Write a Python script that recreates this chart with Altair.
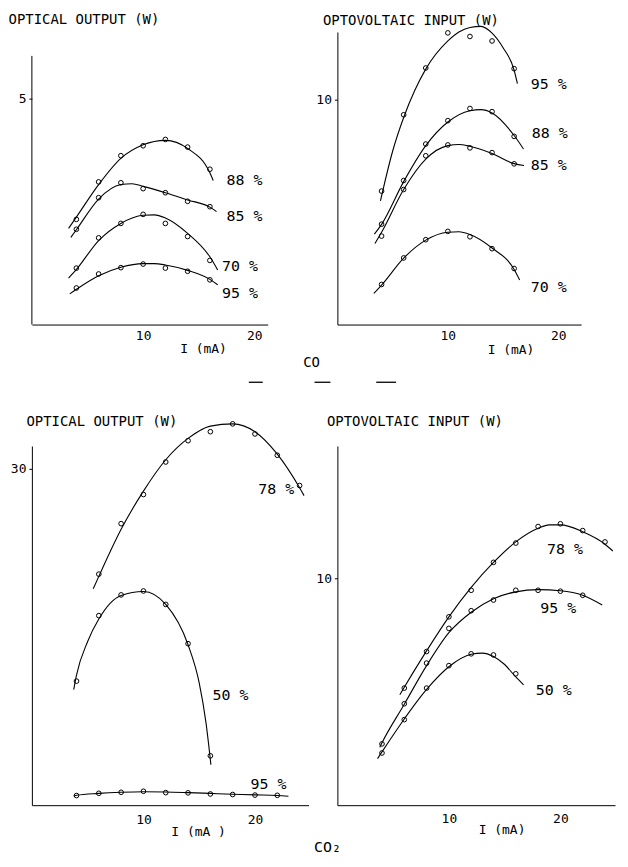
import altair as alt
import pandas as pd

FONT = "DejaVu Sans Mono"

# ---------------- Panel A: CO, optical output ----------------
A_X = [4, 6, 8, 10, 12, 14, 16]
A_88 = [2.33, 3.16, 3.74, 3.96, 4.10, 3.93, 3.44]
A_85 = [2.11, 2.81, 3.14, 3.01, 2.92, 2.73, 2.61]
A_70 = [1.25, 1.92, 2.24, 2.44, 2.24, 1.95, 1.42]
A_95 = [0.81, 1.12, 1.26, 1.34, 1.25, 1.18, 0.99]
A_88_CX = [3.3, 4, 6, 8, 10, 12, 14, 16, 16.3]
A_88_CY = [2.13, 2.38, 3.10, 3.68, 3.98, 4.08, 3.90, 3.36, 3.19]
A_85_CX = [3.5, 4, 6, 8, 9, 10, 12, 14, 16, 16.6]
A_85_CY = [1.93, 2.10, 2.78, 3.10, 3.12, 3.06, 2.92, 2.76, 2.60, 2.50]
A_70_CX = [3.3, 4, 6, 8, 10, 11, 12, 14, 16, 16.7]
A_70_CY = [1.03, 1.22, 1.86, 2.24, 2.42, 2.43, 2.36, 2.02, 1.50, 1.21]
A_95_CX = [3.4, 4, 6, 8, 10, 11, 12, 14, 16, 16.7]
A_95_CY = [0.68, 0.78, 1.08, 1.27, 1.35, 1.35, 1.32, 1.20, 1.00, 0.88]
A_LABELS = ["88 %", "85 %", "70 %", "95 %"]
A_LAB_X = [17.5, 17.5, 17.1, 17.1]
A_LAB_Y = [3.19, 2.40, 1.30, 0.70]

# ---------------- Panel B: CO, optovoltaic input ----------------
B_X = [4, 6, 8, 10, 12, 14, 16]
B_95 = [5.93, 9.32, 11.4, 12.96, 12.8, 12.6, 11.37]
B_88 = [4.46, 6.4, 8.02, 9.06, 9.6, 9.46, 8.36]
B_85 = [3.93, 6.0, 7.5, 7.98, 7.85, 7.64, 7.14]
B_70 = [1.78, 2.96, 3.77, 4.14, 3.9, 3.37, 2.49]
B_95_CX = [3.9, 5, 6, 7, 8, 10, 11, 12, 13, 14, 15, 16, 16.3]
B_95_CY = [5.5, 7.7, 9.2, 10.4, 11.35, 12.6, 13.0, 13.2, 13.25, 12.95, 12.3, 11.3, 10.7]
B_88_CX = [3.35, 4, 6, 8, 10, 12, 13, 14, 16, 16.85]
B_88_CY = [4.02, 4.45, 6.35, 7.95, 9.0, 9.5, 9.55, 9.4, 8.4, 7.8]
B_85_CX = [3.4, 4, 6, 8, 10, 11, 12, 14, 16, 16.9]
B_85_CY = [3.6, 4.1, 6.0, 7.35, 7.95, 8.0, 7.92, 7.6, 7.15, 7.07]
B_70_CX = [3.3, 4, 6, 8, 10, 11, 12, 14, 16, 16.5]
B_70_CY = [1.38, 1.75, 2.95, 3.75, 4.1, 4.12, 4.0, 3.4, 2.45, 1.98]
B_LABELS = ["95 %", "88 %", "85 %", "70 %"]
B_LAB_X = [17.5, 17.6, 17.5, 17.5]
B_LAB_Y = [10.7, 8.5, 7.08, 1.68]

# ---------------- Panel C: CO2, optical output ----------------
C_X78 = [6, 8, 10, 12, 14, 16, 18, 20, 22, 24]
C_78 = [20.6, 25.1, 27.7, 30.6, 32.5, 33.3, 34.0, 33.1, 31.2, 28.5]
C_X50 = [4, 6, 8, 10, 12, 14, 16]
C_50 = [11.06, 16.9, 18.75, 19.1, 17.9, 14.4, 4.4]
C_X95 = [4, 6, 8, 10, 12, 14, 16, 18, 20, 22]
C_95 = [0.86, 1.06, 1.15, 1.24, 1.12, 1.1, 1.0, 0.95, 0.9, 0.88]
C_78_CX = [5.5, 6, 8, 10, 12, 14, 16, 18, 20, 22, 24, 24.4]
C_78_CY = [19.3, 20.4, 24.6, 28.0, 30.8, 32.7, 33.8, 34.0, 33.3, 31.3, 28.3, 27.6]
C_50_CX = [3.75, 4, 5, 6, 8, 10, 12, 14, 15, 15.6, 16.05]
C_50_CY = [10.3, 11.6, 14.6, 16.6, 18.7, 19.05, 17.9, 14.3, 10.9, 7.4, 3.6]
C_95_CX = [3.75, 4, 6, 8, 10, 12, 14, 16, 18, 20, 22, 23]
C_95_CY = [0.8, 0.88, 1.05, 1.15, 1.2, 1.18, 1.12, 1.05, 0.98, 0.92, 0.86, 0.8]
C_LABELS = ["78 %", "50 %", "95 %"]
C_LAB_X = [20.3, 16.2, 19.6]
C_LAB_Y = [28.2, 9.85, 1.86]

# ---------------- Panel D: CO2, optovoltaic input ----------------
D_X78 = [6, 8, 10, 12, 14, 16, 18, 20, 22, 24]
D_78 = [5.16, 6.77, 8.3, 9.47, 10.7, 11.55, 12.28, 12.4, 12.1, 11.6]
D_X95 = [4, 6, 8, 10, 12, 14, 16, 18, 20, 22]
D_95 = [2.7, 4.47, 6.26, 7.79, 8.57, 9.04, 9.47, 9.47, 9.43, 9.25]
D_X50 = [4, 6, 8, 10, 12, 14, 16]
D_50 = [2.3, 3.77, 5.16, 6.15, 6.67, 6.62, 5.79]
D_78_CX = [5.6, 6, 8, 10, 12, 14, 16, 18, 19, 20, 22, 24, 24.7]
D_78_CY = [4.87, 5.2, 6.8, 8.3, 9.6, 10.7, 11.6, 12.2, 12.35, 12.35, 12.05, 11.5, 11.2]
D_95_CX = [3.8, 4, 6, 8, 10, 12, 14, 16, 18, 20, 22, 23.75]
D_95_CY = [2.55, 2.75, 4.45, 6.15, 7.6, 8.5, 9.1, 9.4, 9.5, 9.45, 9.25, 8.82]
D_50_CX = [3.6, 4, 6, 8, 10, 12, 13, 14, 15, 16, 16.7]
D_50_CY = [2.05, 2.35, 3.8, 5.1, 6.1, 6.65, 6.7, 6.55, 6.2, 5.65, 5.3]
D_LABELS = ["78 %", "95 %", "50 %"]
D_LAB_X = [18.8, 18.2, 17.8]
D_LAB_Y = [11.3, 8.68, 5.09]


def frame(series):
    rows = []
    for name, xs, ys in series:
        for x, y in zip(xs, ys):
            rows.append({"s": name, "x": x, "y": y})
    return pd.DataFrame(rows)


def labels_frame(texts, xs, ys):
    return pd.DataFrame({"t": texts, "x": xs, "y": ys})


def panel(curves, points, labels, xdom, ydom, w, h, yval, ytitle, ytx, yty,
          xtitle, xtx, xty, xlabpad, ydomain=True, axis_top=None, extras=()):
    xs = alt.Scale(domain=xdom, nice=False, zero=False)
    ys = alt.Scale(domain=ydom, nice=False, zero=False)
    xaxis = alt.Axis(values=[10, 20], format="d", grid=False, ticks=False, tickSize=0,
                     labelPadding=xlabpad, domainColor="black", domainWidth=1,
                     labelColor="black", labelFont=FONT, labelFontSize=13,
                     title=xtitle, titleX=xtx, titleY=xty, titleAlign="center",
                     titleBaseline="middle", titleFontSize=13, titleFontWeight="normal",
                     titleFont=FONT, titleColor="black")
    yaxis = alt.Axis(values=[yval], format="d", grid=False, tickSize=3, labelPadding=3,
                     tickColor="black", domain=ydomain, domainColor="black", domainWidth=1,
                     labelColor="black", labelFont=FONT, labelFontSize=13,
                     title=ytitle, titleAngle=0, titleX=ytx, titleY=yty,
                     titleAlign="left", titleBaseline="middle", titleFontSize=14,
                     titleFontWeight="normal", titleFont=FONT, titleColor="black")
    X = alt.X("x:Q", scale=xs, axis=xaxis)
    Y = alt.Y("y:Q", scale=ys, axis=yaxis)
    lines = alt.Chart(curves).mark_line(
        color="black", strokeWidth=1.1, interpolate="monotone"
    ).encode(x=X, y=Y, detail="s:N")
    pts = alt.Chart(points).mark_point(
        shape="circle", filled=False, color="black", size=22, strokeWidth=1, opacity=1
    ).encode(x=X, y=Y)
    txt = alt.Chart(labels).mark_text(
        align="left", baseline="middle", font=FONT, fontSize=15, color="black"
    ).encode(x=X, y=Y, text="t:N")
    layers = [lines, pts, txt]
    if axis_top is not None:
        ax = pd.DataFrame({"y0": [0.0], "y1": [axis_top]})
        layers.append(
            alt.Chart(ax).mark_rule(color="black", strokeWidth=1).encode(
                x=alt.value(0), y=alt.Y("y0:Q", scale=ys, axis=yaxis), y2="y1:Q")
        )
    layers.extend(extras)
    return alt.layer(*layers).properties(width=w, height=h)


def note(text, x, y, size=14):
    return alt.Chart(pd.DataFrame({"t": [text]})).mark_text(
        font=FONT, fontSize=size, color="black", align="center", baseline="middle"
    ).encode(text="t:N", x=alt.value(x), y=alt.value(y))


def dash(x1, x2, y):
    return alt.Chart(pd.DataFrame({"t": [0]})).mark_rule(
        color="black", strokeWidth=1.3
    ).encode(x=alt.value(x1), x2=alt.value(x2), y=alt.value(y))


pA = panel(
    frame([("88", A_88_CX, A_88_CY), ("85", A_85_CX, A_85_CY),
           ("70", A_70_CX, A_70_CY), ("95", A_95_CX, A_95_CY)]),
    frame([("88", A_X, A_88), ("85", A_X, A_85), ("70", A_X, A_70), ("95", A_X, A_95)]),
    labels_frame(A_LABELS, A_LAB_X, A_LAB_Y),
    [0, 21.2], [0, 6.48], 237, 294, 5, "OPTICAL OUTPUT (W)", -24, -13,
    "I (mA)", 172, 24, 5, ydomain=False, axis_top=5.95,
)

pB = panel(
    frame([("95", B_95_CX, B_95_CY), ("88", B_88_CX, B_88_CY),
           ("85", B_85_CX, B_85_CY), ("70", B_70_CX, B_70_CY)]),
    frame([("95", B_X, B_95), ("88", B_X, B_88), ("85", B_X, B_85), ("70", B_X, B_70)]),
    labels_frame(B_LABELS, B_LAB_X, B_LAB_Y),
    [0, 22.07], [0, 13.0], 245, 294, 10, "OPTOVOLTAIC INPUT (W)", -15, -12,
    "I (mA)", 174, 25, 5,
    extras=[note("CO", -26, 333), dash(-89, -75, 352), dash(-23, -7, 352), dash(39, 59, 352)],
)

pC = panel(
    frame([("78", C_78_CX, C_78_CY), ("50", C_50_CX, C_50_CY), ("95", C_95_CX, C_95_CY)]),
    frame([("78", C_X78, C_78), ("50", C_X50, C_50), ("95", C_X95, C_95)]),
    labels_frame(C_LABELS, C_LAB_X, C_LAB_Y),
    [0, 24.8], [0, 32.03], 278, 361, 30, "OPTICAL OUTPUT (W)", -6, -25,
    "I (mA )", 167, 26, 8,
)

pD = panel(
    frame([("78", D_78_CX, D_78_CY), ("95", D_95_CX, D_95_CY), ("50", D_50_CX, D_50_CY)]),
    frame([("78", D_X78, D_78), ("95", D_X95, D_95), ("50", D_X50, D_50)]),
    labels_frame(D_LABELS, D_LAB_X, D_LAB_Y),
    [0, 24.9], [0, 15.83], 279, 361, 10, "OPTOVOLTAIC INPUT (W)", -11, -25,
    "I (mA)", 165, 24, 7,
    extras=[note("CO₂", -10, 403, 15)],
)

chart = alt.concat(
    pA, pB, pC, pD, columns=2,
    spacing=alt.RowColnumber(row=122, column=29),
    bounds="flush",
).properties(
    padding={"left": 0, "top": 2, "right": 5, "bottom": 5},
    background="white",
).configure_view(stroke=None).configure_axis(
    grid=False, domainColor="black", domainWidth=1, tickColor="black",
    labelColor="black", titleColor="black", labelFont=FONT, labelFontSize=13,
)

chart.save("out.html", embed_options={"renderer": "svg", "actions": False})
